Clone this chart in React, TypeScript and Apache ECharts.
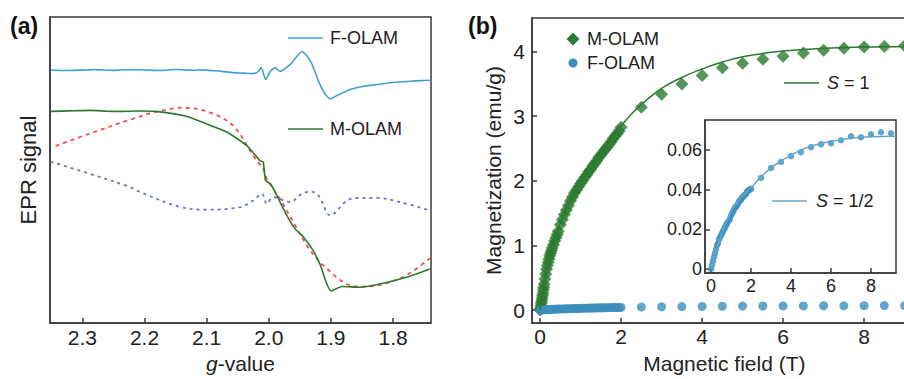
import React, { useEffect, useRef } from 'react';
import * as echarts from 'echarts';

const FONT = '"Liberation Sans", Arial, Helvetica, sans-serif';
const TXT = '#222222';
const AX = '#3a3a3a';

// ---------- Panel (a): EPR spectra (g-value vs signal, arbitrary units) ----------
const gTicks = [2.3, 2.2, 2.1, 2.0, 1.9, 1.8];

const gF = [2.351, 2.33, 2.303, 2.28, 2.25, 2.239, 2.21, 2.175, 2.15, 2.12, 2.11, 2.08, 2.057, 2.04, 2.025, 2.017, 2.012, 2.005, 1.998, 1.99, 1.982, 1.966, 1.954, 1.947, 1.94, 1.93, 1.921, 1.911, 1.901, 1.89, 1.869, 1.85, 1.826, 1.8, 1.773, 1.755, 1.739];
const epF = [254.7, 254.2, 254.5, 255.0, 254.3, 254.7, 254.9, 254.2, 255.1, 254.4, 254.8, 253.5, 252, 251.5, 251, 253, 257, 245, 253, 257, 253.3, 260, 269, 273.3, 270, 260, 245, 232, 225.7, 229, 235, 238, 240, 242, 243.3, 244, 244.3];

const gM = [2.351, 2.32, 2.287, 2.26, 2.239, 2.21, 2.183, 2.134, 2.099, 2.067, 2.035, 2.014, 2.009, 2.005, 1.997, 1.987, 1.971, 1.958, 1.945, 1.929, 1.917, 1.909, 1.9, 1.882, 1.853, 1.816, 1.773, 1.741];
const epM = [213, 213.5, 214, 213.2, 213, 213.4, 213, 208.3, 200, 192, 178.3, 163.3, 162, 143.3, 140, 128.3, 108.3, 95, 87, 73.3, 58.3, 43.3, 32.3, 36.7, 36, 40, 47, 54.3];

const gFit = [2.343, 2.276, 2.218, 2.186, 2.138, 2.094, 2.057, 2.025, 2.009, 2.003, 1.982, 1.961, 1.939, 1.923, 1.907, 1.874, 1.848, 1.816, 1.778, 1.741];
const epFit = [178.3, 193.3, 205.7, 211.7, 216.7, 211.7, 198.3, 168.3, 155, 145, 125, 102, 78.3, 65, 55, 39, 36.7, 39, 48.3, 65];

const gSim = [2.351, 2.287, 2.223, 2.207, 2.142, 2.1, 2.046, 2.025, 2.011, 2.003, 1.993, 1.966, 1.947, 1.933, 1.92, 1.901, 1.874, 1.853, 1.826, 1.789, 1.741];
const epSim = [162.3, 150, 136.7, 131.7, 116.7, 114, 116.7, 123.3, 130, 120, 126.7, 121.7, 130, 132.3, 128.3, 108.3, 123.3, 126, 126, 121.7, 113.3];

// ---------- Panel (b): magnetization vs field ----------
const fieldTicks = [0, 2, 4, 6, 8];
const magTicks = [0, 1, 2, 3, 4];
const insetMagTicks = [0, 0.02, 0.04, 0.06];

const fieldM = [0, 0.01, 0.02, 0.03, 0.04, 0.05, 0.06, 0.07, 0.08, 0.09, 0.1, 0.12, 0.14, 0.16, 0.18, 0.2, 0.22, 0.24, 0.26, 0.28, 0.3, 0.33, 0.36, 0.39, 0.42, 0.45, 0.5, 0.55, 0.6, 0.65, 0.7, 0.75, 0.8, 0.85, 0.9, 0.95, 1.0, 1.05, 1.1, 1.15, 1.2, 1.25, 1.3, 1.35, 1.4, 1.45, 1.5, 1.55, 1.6, 1.65, 1.7, 1.75, 1.8, 1.85, 1.9, 1.95, 2.0, 2.5, 3.0, 3.5, 4.0, 4.5, 5.0, 5.5, 6.0, 6.5, 7.0, 7.5, 8.0, 8.5, 9.0];
const magM = [0, 0.03, 0.07, 0.11, 0.14, 0.18, 0.22, 0.26, 0.31, 0.35, 0.4, 0.48, 0.56, 0.63, 0.69, 0.74, 0.79, 0.84, 0.88, 0.92, 0.96, 1.01, 1.07, 1.12, 1.17, 1.22, 1.32, 1.4, 1.48, 1.55, 1.62, 1.69, 1.75, 1.81, 1.86, 1.91, 1.96, 2.0, 2.05, 2.09, 2.14, 2.18, 2.23, 2.27, 2.31, 2.36, 2.4, 2.44, 2.48, 2.52, 2.56, 2.6, 2.65, 2.69, 2.73, 2.77, 2.83, 3.14, 3.34, 3.5, 3.63, 3.75, 3.82, 3.88, 3.93, 3.98, 4.02, 4.05, 4.07, 4.08, 4.09];

const fieldF = [0, 0.05, 0.1, 0.15, 0.2, 0.25, 0.3, 0.35, 0.4, 0.45, 0.5, 0.55, 0.6, 0.65, 0.7, 0.75, 0.8, 0.85, 0.9, 0.95, 1.0, 1.05, 1.1, 1.15, 1.2, 1.25, 1.3, 1.35, 1.4, 1.45, 1.5, 1.55, 1.6, 1.65, 1.7, 1.75, 1.8, 1.85, 1.9, 1.95, 2.0, 2.5, 3.0, 3.5, 4.0, 4.5, 5.0, 5.5, 6.0, 6.5, 7.0, 7.5, 8.0, 8.5, 9.0];
const magF = [0, 0.002, 0.004, 0.006, 0.008, 0.01, 0.012, 0.013, 0.015, 0.016, 0.017, 0.018, 0.019, 0.02, 0.021, 0.022, 0.023, 0.024, 0.0245, 0.0255, 0.027, 0.028, 0.029, 0.03, 0.031, 0.0315, 0.032, 0.033, 0.034, 0.0345, 0.035, 0.036, 0.0365, 0.037, 0.0375, 0.038, 0.039, 0.0395, 0.04, 0.04, 0.0405, 0.046, 0.051, 0.054, 0.057, 0.059, 0.0615, 0.063, 0.0635, 0.065, 0.067, 0.0665, 0.068, 0.069, 0.0685];

const fieldS1 = [0, 0.25, 0.5, 0.75, 1, 1.25, 1.5, 1.75, 2, 2.25, 2.5, 3, 3.5, 4, 4.5, 5, 5.5, 6, 7, 8, 9, 9.3];
const magS1 = [0, 0.88, 1.35, 1.7, 1.98, 2.22, 2.44, 2.65, 2.85, 3.03, 3.18, 3.43, 3.6, 3.73, 3.84, 3.92, 3.97, 4.01, 4.05, 4.07, 4.08, 4.085];

const fieldHalf = [0, 0.5, 1, 1.5, 2, 2.5, 3, 3.5, 4, 4.5, 5, 6, 7, 8, 9, 9.25];
const magHalf = [0, 0.0165, 0.029, 0.036, 0.041, 0.0465, 0.051, 0.0545, 0.0575, 0.06, 0.062, 0.0645, 0.066, 0.0667, 0.067, 0.067];

const zip = (xs: number[], ys: number[]) => xs.map((x, i) => [x, ys[i]]);

const GREEN = '#2c7a30';
const BLUE_DOT = '#3c8fbd';
const BLUE_LINE = '#45a0cf';
const BLUE_FIT = '#62a8cc';
const RED = '#f2504c';
const SLATE = '#6a72cc';

const tickLabel = (size: number) => ({ color: TXT, fontFamily: FONT, fontSize: size });

function buildOption(): any {
  return {
    animation: false,
    backgroundColor: '#ffffff',
    grid: [
      { left: 50, top: 17, width: 381, height: 308, show: true, borderColor: AX, borderWidth: 1.5, backgroundColor: 'transparent' },
      { left: 532, top: 18, width: 384.75, height: 309, show: true, borderColor: AX, borderWidth: 1.5, backgroundColor: 'transparent' },
      { left: 705, top: 120, width: 191, height: 153, show: true, borderColor: AX, borderWidth: 1.5, backgroundColor: '#ffffff' },
    ],
    xAxis: [
      {
        gridIndex: 0, type: 'value', min: 1.739, max: 2.352, inverse: true,
        axisLine: { show: true, lineStyle: { color: AX, width: 1.5 } },
        axisTick: { show: true, inside: true, length: 5, customValues: gTicks, lineStyle: { color: AX, width: 1.5 } },
        axisLabel: { ...tickLabel(21), margin: 4, customValues: gTicks, formatter: (v: number) => v.toFixed(1) },
        splitLine: { show: false },
        name: '{i|g}-value', nameLocation: 'middle', nameGap: 30,
        nameTextStyle: { color: TXT, fontFamily: FONT, fontSize: 21, rich: { i: { fontStyle: 'italic', fontFamily: FONT, fontSize: 21, color: TXT } } },
      },
      {
        gridIndex: 1, type: 'value', min: -0.2, max: 9.3,
        axisLine: { show: true, onZero: false, lineStyle: { color: AX, width: 1.5 } },
        axisTick: { show: true, inside: true, length: 5, customValues: fieldTicks, lineStyle: { color: AX, width: 1.5 } },
        axisLabel: { ...tickLabel(21), margin: 3, customValues: fieldTicks },
        splitLine: { show: false },
        name: 'Magnetic field (T)', nameLocation: 'middle', nameGap: 30,
        nameTextStyle: { color: TXT, fontFamily: FONT, fontSize: 21 },
      },
      {
        gridIndex: 2, type: 'value', min: -0.3, max: 9.25,
        axisLine: { show: true, onZero: false, lineStyle: { color: AX, width: 1.5 } },
        axisTick: { show: true, inside: true, length: 5, customValues: fieldTicks, lineStyle: { color: AX, width: 1.5 } },
        axisLabel: { ...tickLabel(18), margin: 4, customValues: fieldTicks },
        splitLine: { show: false },
      },
    ],
    yAxis: [
      {
        gridIndex: 0, type: 'value', min: 0, max: 308,
        axisLine: { show: true, lineStyle: { color: AX, width: 1.5 } },
        axisTick: { show: false }, axisLabel: { show: false }, splitLine: { show: false },
        name: 'EPR signal', nameLocation: 'middle', nameGap: 11,
        nameTextStyle: { color: TXT, fontFamily: FONT, fontSize: 22 },
      },
      {
        gridIndex: 1, type: 'value', min: -0.2, max: 4.52,
        axisLine: { show: true, onZero: false, lineStyle: { color: AX, width: 1.5 } },
        axisTick: { show: true, inside: true, length: 5, customValues: magTicks, lineStyle: { color: AX, width: 1.5 } },
        axisLabel: { ...tickLabel(21), margin: 7, customValues: magTicks },
        splitLine: { show: false },
        name: 'Magnetization (emu/g)', nameLocation: 'middle', nameGap: 28,
        nameTextStyle: { color: TXT, fontFamily: FONT, fontSize: 21 },
      },
      {
        gridIndex: 2, type: 'value', min: -0.002, max: 0.0752,
        axisLine: { show: true, onZero: false, lineStyle: { color: AX, width: 1.5 } },
        axisTick: { show: true, inside: true, length: 5, customValues: insetMagTicks, lineStyle: { color: AX, width: 1.5 } },
        axisLabel: { ...tickLabel(18), margin: 3, customValues: insetMagTicks, formatter: (v: number) => (v === 0 ? '0' : v.toFixed(2)) },
        splitLine: { show: false },
      },
    ],
    series: [
      { name: 'F-OLAM EPR', type: 'line', xAxisIndex: 0, yAxisIndex: 0, data: zip(gF, epF), showSymbol: false, smooth: 0.2, lineStyle: { color: BLUE_LINE, width: 1.6 } },
      { name: 'Simulation', type: 'line', xAxisIndex: 0, yAxisIndex: 0, data: zip(gSim, epSim), showSymbol: false, smooth: 0.35, lineStyle: { color: SLATE, width: 1.8, type: [3, 4] } },
      { name: 'Fit', type: 'line', xAxisIndex: 0, yAxisIndex: 0, data: zip(gFit, epFit), showSymbol: false, smooth: 0.35, lineStyle: { color: RED, width: 1.8, type: [4, 4] } },
      { name: 'M-OLAM EPR', type: 'line', xAxisIndex: 0, yAxisIndex: 0, data: zip(gM, epM), showSymbol: false, smooth: 0.2, lineStyle: { color: GREEN, width: 1.6 } },

      { name: 'M-OLAM', type: 'scatter', xAxisIndex: 1, yAxisIndex: 1, data: zip(fieldM, magM), symbol: 'diamond', symbolSize: 13, itemStyle: { color: GREEN } },
      { name: 'S = 1', type: 'line', xAxisIndex: 1, yAxisIndex: 1, data: zip(fieldS1, magS1), showSymbol: false, smooth: true, lineStyle: { color: GREEN, width: 1.5 } },
      { name: 'F-OLAM', type: 'scatter', xAxisIndex: 1, yAxisIndex: 1, data: zip(fieldF, magF), symbol: 'circle', symbolSize: 9, itemStyle: { color: BLUE_DOT } },

      { name: 'F-OLAM inset', type: 'scatter', xAxisIndex: 2, yAxisIndex: 2, data: zip(fieldF, magF), symbol: 'circle', symbolSize: 6.5, itemStyle: { color: BLUE_DOT } },
      { name: 'S = 1/2', type: 'line', xAxisIndex: 2, yAxisIndex: 2, data: zip(fieldHalf, magHalf), showSymbol: false, smooth: true, lineStyle: { color: BLUE_FIT, width: 1.5 } },
    ],
    graphic: [
      { type: 'text', left: 10, top: 14, style: { text: '(a)', font: `bold 23px ${FONT}`, fill: '#111' } },
      { type: 'text', left: 468, top: 14, style: { text: '(b)', font: `bold 23px ${FONT}`, fill: '#111' } },
      // Panel (a) legend
      { type: 'line', shape: { x1: 288, y1: 38, x2: 323, y2: 38 }, style: { stroke: BLUE_LINE, lineWidth: 1.6 } },
      { type: 'text', x: 330, y: 38, style: { text: 'F-OLAM', font: `18px ${FONT}`, fill: TXT, verticalAlign: 'middle' } },
      { type: 'line', shape: { x1: 288, y1: 129, x2: 323, y2: 129 }, style: { stroke: GREEN, lineWidth: 1.6 } },
      { type: 'text', x: 330, y: 129, style: { text: 'M-OLAM', font: `18px ${FONT}`, fill: TXT, verticalAlign: 'middle' } },
      // Panel (b) legend
      { type: 'polygon', shape: { points: [[573, 32.5], [579.5, 39], [573, 45.5], [566.5, 39]] }, style: { fill: GREEN } },
      { type: 'text', x: 587, y: 39, style: { text: 'M-OLAM', font: `18px ${FONT}`, fill: TXT, verticalAlign: 'middle' } },
      { type: 'circle', shape: { cx: 573, cy: 63, r: 4.5 }, style: { fill: BLUE_DOT } },
      { type: 'text', x: 587, y: 63, style: { text: 'F-OLAM', font: `18px ${FONT}`, fill: TXT, verticalAlign: 'middle' } },
      { type: 'line', shape: { x1: 784, y1: 83, x2: 819, y2: 83 }, style: { stroke: GREEN, lineWidth: 1.5 } },
      {
        type: 'text', x: 827, y: 83,
        style: { text: '{i|S} = 1', font: `18px ${FONT}`, fill: TXT, verticalAlign: 'middle', rich: { i: { fontStyle: 'italic', fontFamily: FONT, fontSize: 18, fill: TXT } } },
      },
      { type: 'line', z: 100, shape: { x1: 772, y1: 201, x2: 807, y2: 201 }, style: { stroke: BLUE_FIT, lineWidth: 1.5 } },
      {
        type: 'text', z: 100, x: 816, y: 201,
        style: { text: '{i|S} = 1/2', font: `18px ${FONT}`, fill: TXT, verticalAlign: 'middle', rich: { i: { fontStyle: 'italic', fontFamily: FONT, fontSize: 18, fill: TXT } } },
      },
    ],
  };
}

export default function App() {
  const ref = useRef<HTMLDivElement>(null);
  useEffect(() => {
    if (!ref.current) return;
    const chart = echarts.init(ref.current, null, { renderer: 'svg' });
    chart.setOption(buildOption());
    return () => chart.dispose();
  }, []);
  return (
    <div style={{ position: 'absolute', left: 0, top: 0, width: 904, height: 379, overflow: 'hidden', background: '#fff' }}>
      <div ref={ref} style={{ width: 960, height: 379 }} />
    </div>
  );
}
